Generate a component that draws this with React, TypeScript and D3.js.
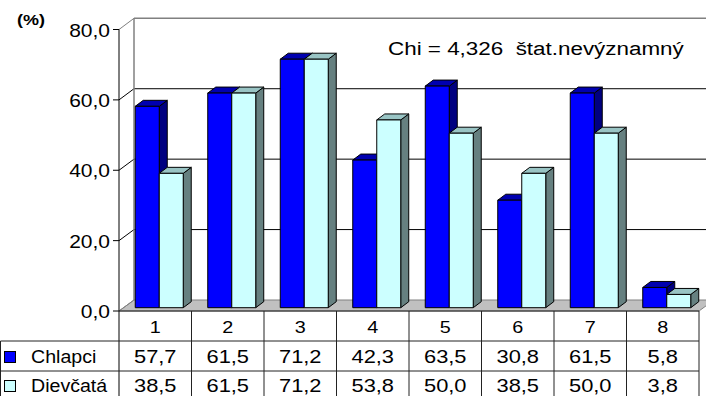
import React from 'react';
import * as d3 from 'd3';

// Chart data
const categories = ['1', '2', '3', '4', '5', '6', '7', '8'];
const seriesNames = ['Chlapci', 'Dievčatá'];
const chlapci = [57.7, 61.5, 71.2, 42.3, 63.5, 30.8, 61.5, 5.8];
const dievcata = [38.5, 61.5, 71.2, 53.8, 50.0, 38.5, 50.0, 3.8];
const yTicks = [0, 20, 40, 60, 80];
const unitLabel = '(%)';
const noteText = 'Chi = 4,326  štat.nevýznamný';

const W = 706;
const H = 396;
const FONT = '"Liberation Sans", Arial, Helvetica, sans-serif';
const SX = 1.2; // horizontal text stretch

// Layout of the 3D frame
const frontLeft = 119;
const frontRight = 699;
const front0 = 311;
const front80 = 29.5;
const depthX = 15;
const depthY = -11;
const barOffX = 4;
const barOffY = -3.3;
const barDX = 8;
const barDY = -6;

const seriesStyle = [
  { front: '#0000FF', top: '#0000B0', side: '#000080' },
  { front: '#CCFFFF', top: '#99C4C4', side: '#668080' },
];

const fmt = (v: number) => d3.format('.1f')(v).replace('.', ',');

function SText(props: {
  x: number;
  y: number;
  anchor?: 'start' | 'middle' | 'end';
  size: number;
  weight?: string;
  sx?: number;
  children: React.ReactNode;
}) {
  const { x, y, anchor = 'start', size, weight = 'normal', sx = SX, children } = props;
  return (
    <text
      transform={`translate(${x},${y}) scale(${sx},1)`}
      textAnchor={anchor}
      fontSize={size}
      fontWeight={weight}
      fontFamily={FONT}
      fill="#000"
      style={{ whiteSpace: 'pre' }}
    >
      {children}
    </text>
  );
}

export default function App() {
  const x = d3.scaleBand<string>().domain(categories).range([frontLeft, frontRight]).padding(0);
  const bw = x.bandwidth();
  const groupW = bw * 0.662;
  const xs = d3.scaleBand<string>().domain(seriesNames).range([0, groupW]).padding(0);
  const sw = xs.bandwidth();

  const yFront = d3.scaleLinear().domain([0, 80]).range([front0, front80]);
  const yBack = d3.scaleLinear().domain([0, 80]).range([front0 + depthY, front80 + depthY - 0.2]);
  const yBar = d3.scaleLinear().domain([0, 80]).range([front0 + barOffY, front0 + barOffY - 80 * 3.49]);

  const values = [chlapci, dievcata];

  const backLeft = frontLeft + depthX;
  const backRight = frontRight + depthX;

  const rowTop1 = 341;
  const rowTop2 = 371;

  const bars: React.ReactNode[] = [];
  categories.forEach((c, i) => {
    seriesNames.forEach((s, k) => {
      const v = values[k][i];
      const x0 = (x(c) as number) + (bw - groupW) / 2 + (xs(s) as number) + barOffX;
      const x1 = x0 + sw;
      const yb = yBar(0);
      const yt = yBar(v);
      const st = seriesStyle[k];
      bars.push(
        <g key={`${c}-${s}`} stroke="#000" strokeWidth={1} strokeLinejoin="round">
          <polygon
            points={`${x1},${yb} ${x1},${yt} ${x1 + barDX},${yt + barDY} ${x1 + barDX},${yb + barDY}`}
            fill={st.side}
          />
          <polygon
            points={`${x0},${yt} ${x1},${yt} ${x1 + barDX},${yt + barDY} ${x0 + barDX},${yt + barDY}`}
            fill={st.top}
          />
          <rect x={x0} y={yt} width={sw} height={yb - yt} fill={st.front} />
        </g>
      );
    });
  });

  return (
    <svg
      width={W}
      height={H}
      viewBox={`0 0 ${W} ${H}`}
      style={{ position: 'absolute', left: 0, top: 0, background: '#fff' }}
    >
      <rect x={0} y={0} width={W} height={H} fill="#fff" />

      {/* floor */}
      <polygon
        points={`${frontLeft},${front0} ${frontRight},${front0} ${backRight},${front0 + depthY} ${backLeft},${front0 + depthY}`}
        fill="#C0C0C0"
        stroke="#808080"
        strokeWidth={1}
      />

      {/* back wall gridlines */}
      {yTicks
        .filter((t) => t > 0)
        .map((t) => (
          <g key={`g${t}`}>
            <line
              x1={backLeft}
              x2={W}
              y1={yBack(t)}
              y2={yBack(t)}
              stroke={t === 80 ? '#808080' : '#000'}
              strokeWidth={t === 80 ? 1.5 : 1}
            />
            <line
              x1={frontLeft}
              y1={yFront(t)}
              x2={backLeft}
              y2={yBack(t)}
              stroke={t === 80 ? '#808080' : '#000'}
              strokeWidth={1}
            />
          </g>
        ))}
      <line x1={frontLeft} y1={front0} x2={backLeft} y2={yBack(0)} stroke="#808080" strokeWidth={1} />
      <line x1={backLeft} x2={backLeft} y1={yBack(80)} y2={yBack(0)} stroke="#808080" strokeWidth={1.5} />

      {/* bars */}
      {bars}

      {/* value axis */}
      <line x1={frontLeft} x2={frontLeft} y1={yFront(80)} y2={H} stroke="#000" strokeWidth={1} />
      {yTicks.map((t) => (
        <g key={`t${t}`}>
          <line x1={frontLeft - 6} x2={frontLeft} y1={yFront(t)} y2={yFront(t)} stroke="#000" strokeWidth={1} />
          <SText x={110} y={yFront(t) + 7} anchor="end" size={17.5}>
            {fmt(t)}
          </SText>
        </g>
      ))}
      <SText x={17} y={25} size={15} weight="bold">
        {unitLabel}
      </SText>

      <SText x={388} y={55} size={19} sx={1.18}>
        {noteText}
      </SText>

      {/* data table */}
      <g stroke="#222" strokeWidth={1}>
        <line x1={frontLeft} x2={frontRight} y1={front0} y2={front0} />
        <line x1={0.5} x2={frontRight} y1={rowTop1} y2={rowTop1} />
        <line x1={0.5} x2={frontRight} y1={rowTop2} y2={rowTop2} />
        <line x1={0.5} x2={0.5} y1={rowTop1} y2={H} />
        {categories.map((c) => (
          <line key={`v${c}`} x1={(x(c) as number) + bw} x2={(x(c) as number) + bw} y1={front0} y2={H} />
        ))}
      </g>
      {categories.map((c) => (
        <SText key={`c${c}`} x={(x(c) as number) + bw / 2} y={333} anchor="middle" size={16.5}>
          {c}
        </SText>
      ))}
      {seriesNames.map((s, k) => {
        const base = k === 0 ? 363 : 392;
        return (
          <g key={`row${s}`}>
            <rect x={4.5} y={base - 11.5} width={11} height={11} fill={seriesStyle[k].front} stroke="#000" strokeWidth={1} />
            <SText x={31} y={base} size={17.5} sx={1.12}>
              {s}
            </SText>
            {categories.map((c, i) => (
              <SText key={`${s}${c}`} x={(x(c) as number) + bw / 2} y={base} anchor="middle" size={17.5} sx={1.25}>
                {fmt(values[k][i])}
              </SText>
            ))}
          </g>
        );
      })}
    </svg>
  );
}
